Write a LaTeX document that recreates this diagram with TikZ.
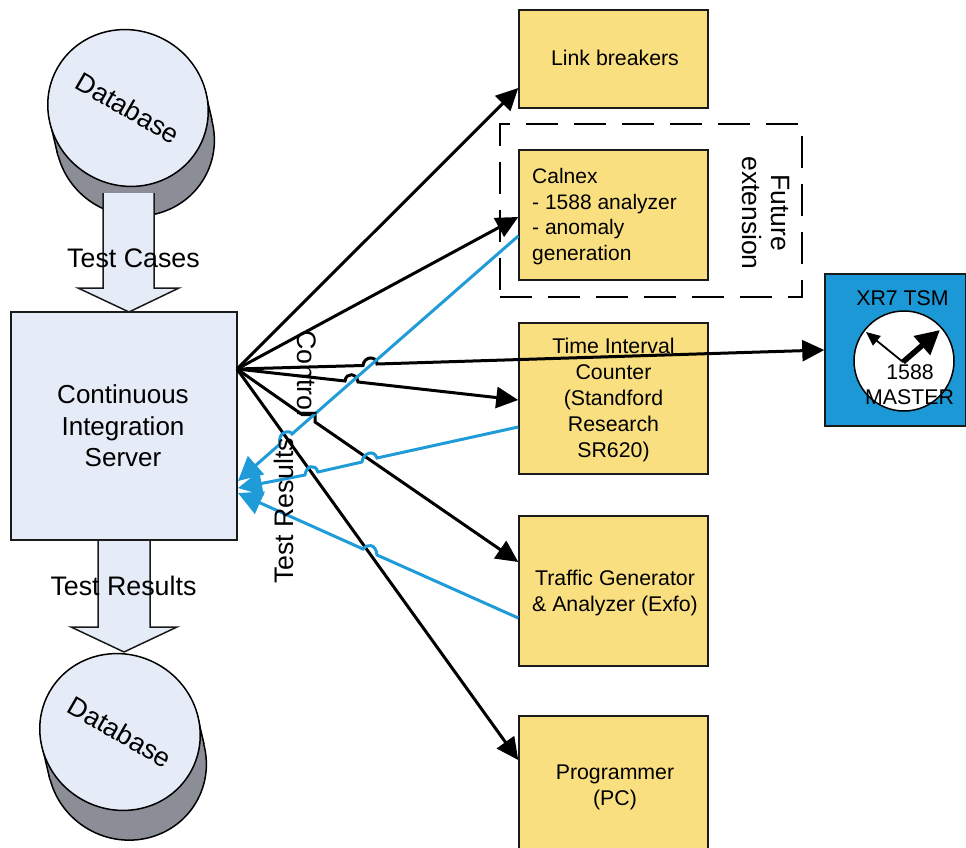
\documentclass[tikz,border=0pt]{standalone}
\usepackage{fontspec}
\setmainfont{Liberation Sans}
\usetikzlibrary{arrows.meta,shapes.geometric}
\definecolor{paleblue}{HTML}{E6ECF7}
\definecolor{dbgray}{HTML}{8B8E96}
\definecolor{boxyellow}{HTML}{F9DF7F}
\definecolor{tsmblue}{HTML}{1B98D5}
\definecolor{linkblue}{HTML}{1F9CD8}
\definecolor{edge}{HTML}{1A1A1A}
\tikzset{
  big/.style={font=\fontsize{26.8}{31}\selectfont},
  small/.style={font=\fontsize{21.3}{26}\selectfont,align=center,inner sep=0pt},
  dbtop/.style={ellipse,draw=black,line width=1.5pt,fill=paleblue,minimum width=160pt,minimum height=155pt,inner sep=0pt,rotate=-30,big},
  dbbase/.style={ellipse,draw=black,line width=1.5pt,fill=dbgray,minimum width=160pt,minimum height=155pt,inner sep=0pt,rotate=-30},
  blockarrow/.style={fill=paleblue},
  blockedge/.style={draw=edge,line width=1.5pt},
  yellowbox/.style={rectangle,draw=edge,line width=1.5pt,fill=boxyellow,minimum width=189pt,inner sep=0pt},
  ctrl/.style={draw=black,line width=3pt,-{Triangle[length=22pt,width=21pt]}},
  result/.style={draw=linkblue,line width=3pt,-{Triangle[length=24pt,width=24pt]}},
}
\begin{document}
\begin{tikzpicture}[x=1pt,y=-1pt]
\useasboundingbox (0,0) rectangle (966,848);
% upper database
\node[dbbase] (dbinbase) at (135,138) {};
\fill[dbgray] (205,90) -- (212,120) -- (135,138) -- (58,156) -- (51,126) -- cycle;
\draw[line width=1.5pt] (205,90) -- (212,120) (51,126) -- (58,156);
\node[dbtop] (dbin) at (128,108) {Database};
% lower database
\node[dbbase] (dboutbase) at (127,762) {};
\fill[dbgray] (197,714) -- (204,744) -- (127,762) -- (50,780) -- (43,750) -- cycle;
\draw[line width=1.5pt] (197,714) -- (204,744) (43,750) -- (50,780);
\node[dbtop] (dbout) at (120,732) {Database};
% block arrows
\fill[blockarrow] (103,193) -- (154,193) -- (154,288) -- (179,288) -- (129,312) -- (78,288) -- (103,288) -- cycle;
\draw[blockedge] (154,193) -- (154,288) -- (179,288) -- (129,312) -- (78,288) -- (103,288) -- (103,193);
\fill[blockarrow] (98,540) -- (150,540) -- (150,627) -- (177,627) -- (124,652) -- (71,627) -- (98,627) -- cycle;
\draw[blockedge] (150,540) -- (150,627) -- (177,627) -- (124,652) -- (71,627) -- (98,627) -- (98,540);
% server
\node[rectangle,draw=edge,line width=1.5pt,fill=paleblue,minimum width=226pt,minimum height=228pt,inner sep=0pt] (server) at (124,426) {};
\node[align=center,font=\fontsize{26}{31.5}\selectfont,inner sep=0pt] (serverlabel) at (123,426) {Continuous\\Integration\\Server};
% yellow boxes
\node[yellowbox,minimum height=98pt] (link) at (613.5,59) {};
\node[rectangle,minimum width=302pt,minimum height=173pt,inner sep=0pt] (future) at (651,210.5) {};
\draw[draw=black,line width=1.5pt,dash pattern=on 32pt off 16pt] (future.south west) -- (future.south east) -- (future.north east) -- (future.north west) -- cycle;
\node[yellowbox,minimum height=130pt] (calnex) at (613.5,215) {};
\node[yellowbox,minimum height=151pt] (tic) at (613.5,398.5) {};
\node[yellowbox,minimum height=150pt] (traffic) at (613.5,591) {};
\begin{scope}
\clip (0,0) rectangle (966,848);
\node[yellowbox,minimum height=140pt] (prog) at (613.5,786) {};
\end{scope}
\node[rotate=-90,align=center,font=\fontsize{26.5}{29}\selectfont,inner sep=0pt] (futurelabel) at (766,213) {Future\\extension};
% TSM
\node[rectangle,draw=edge,line width=1.5pt,fill=tsmblue,minimum width=141pt,minimum height=152pt,inner sep=0pt] (tsm) at (895.5,350) {};
\node[small] (tsmlabel) at (902.5,298) {XR7 TSM};
\node[circle,draw=black,line width=1.5pt,fill=white,minimum size=100pt,inner sep=0pt] (clock) at (904,361) {};
\coordinate (hcenter) at (903,362);
\coordinate (hlong) at (940,330);
\coordinate (hshort) at (866,332);
\draw[line width=5.5pt,-{Triangle[length=24pt,width=24pt]}] (hcenter) -- (hlong);
\draw[line width=1.8pt,-{Triangle[length=14pt,width=12pt]}] (hcenter) -- (hshort);
\node[small] (m1) at (910,372) {1588};
\node[small] (m2) at (909.5,397) {MASTER};
% control connectors
\coordinate (hub) at (237,369);
\coordinate (a1) at (363,365.5);
\coordinate (a2) at (377,364);
\coordinate (b1) at (345,381);
\coordinate (b2) at (358,382);
\coordinate (c1) at (302,414.5);
\coordinate (c2) at (315,414.5);
\coordinate (c3) at (315,422);
\draw[ctrl] (hub) -- ([yshift=-29pt]link.west);
\draw[ctrl] (hub) -- ([yshift=-2pt]calnex.west);
\draw[ctrl] (hub) -- (a1) .. controls +(1,-9) and +(-1,-9) .. (a2) -- (tsm.west);
\draw[ctrl] (hub) -- (b1) .. controls +(1,-9) and +(-1,-9) .. (b2) -- ([yshift=-1.5pt]tic.west);
\draw[ctrl] (hub) -- (c1) -- (c2) -- (c3) -- ([yshift=29pt]traffic.west);
\draw[ctrl] (hub) -- ([yshift=26pt]prog.west);
% result connectors
\coordinate (s1) at (238,481);
\coordinate (s2) at (238,488);
\coordinate (s3) at (238,493);
\coordinate (d1) at (292,434);
\coordinate (d2) at (280,444);
\coordinate (e1) at (377,458);
\coordinate (e2) at (362,462);
\coordinate (e3) at (318,472);
\coordinate (e4) at (305,475);
\coordinate (f1) at (377,555);
\coordinate (f2) at (363,549);
\draw[result] ([yshift=-21pt]calnex.west) -- (d1) .. controls +(-2,-5) and +(-3,-12) .. (d2) -- (s1);
\draw[result] ([yshift=-28.5pt]tic.west) -- (e1) .. controls +(-3,-9) and +(1,-9) .. (e2) -- (e3) .. controls +(-3,-9) and +(1,-9) .. (e4) -- (s2);
\draw[result] ([yshift=-27pt]traffic.west) -- (f1) .. controls +(-1,-12) and +(3,-5) .. (f2) -- (s3);
% box labels
\node[small] (linklabel) at (615,58) {Link breakers};
\node[small,anchor=west,align=left,font=\fontsize{21}{25.8}\selectfont] (calnexlabel) at (532,216.5) {Calnex\\- 1588 analyzer\\- anomaly\\generation};
\node[small] (ticlabel) at (613.5,400) {Time Interval\\Counter\\(Standford\\Research\\SR620)};
\node[small] (trafficlabel) at (615,593) {Traffic Generator\\\& Analyzer (Exfo)};
\node[small] (proglabel) at (615,787.5) {Programmer\\(PC)};
% labels
\node[big] (testcases) at (133.5,258) {Test Cases};
\node[big] (testresults) at (123.5,586) {Test Results};
\node[big,rotate=-90] (control) at (307,373.5) {Control};
\node[big,rotate=90] (testres2) at (284,511) {Test Results};
\end{tikzpicture}
\end{document}
